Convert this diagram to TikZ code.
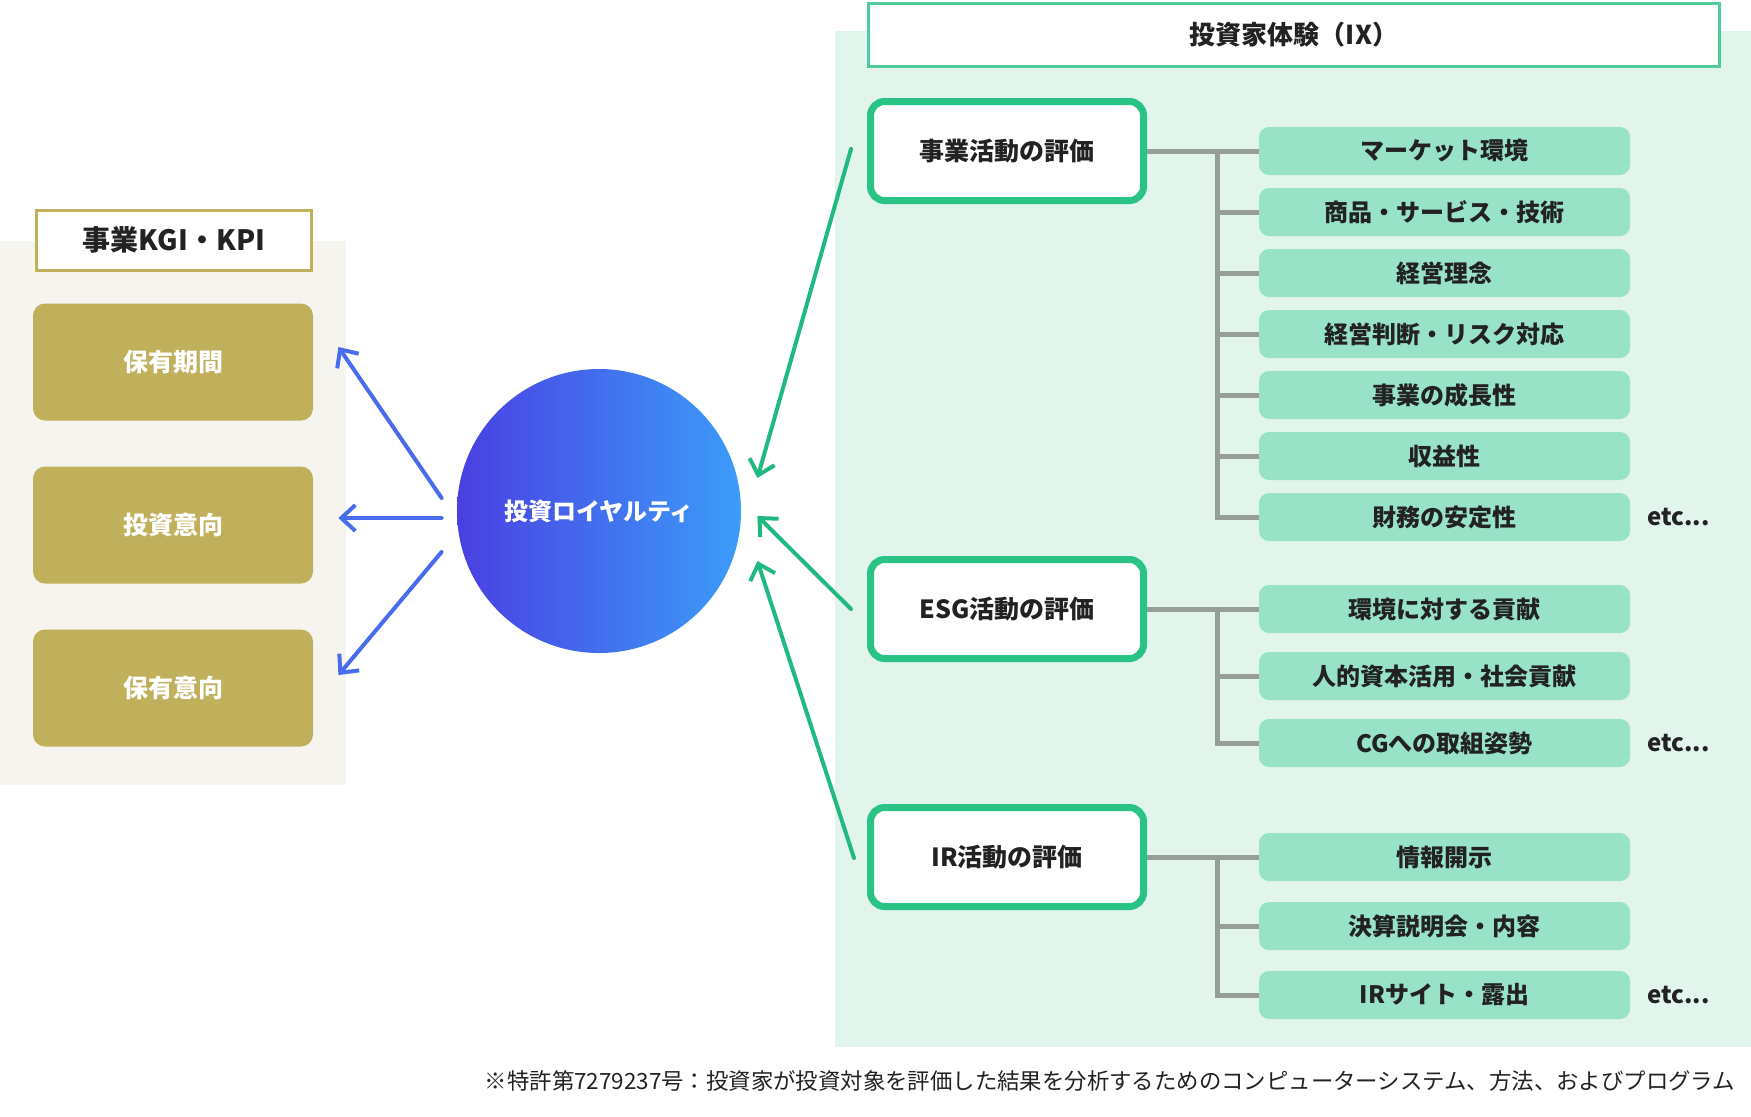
\documentclass[tikz,border=0pt]{standalone}
\usepackage{fontspec}
\setmainfont{Noto Sans CJK JP}
\usetikzlibrary{arrows.meta, calc, positioning}
\definecolor{kgibeige}{RGB}{246,244,239}
\definecolor{kgigold}{RGB}{192,176,92}
\definecolor{ixmint}{RGB}{226,245,237}
\definecolor{ixgreen}{RGB}{78,205,155}
\definecolor{ixdeep}{RGB}{40,195,133}
\definecolor{itemmint}{RGB}{152,227,200}
\definecolor{branchgray}{RGB}{150,158,154}
\definecolor{arrowgreen}{RGB}{32,185,130}
\definecolor{arrowblue}{RGB}{72,108,236}
\definecolor{loyalpurple}{RGB}{74,63,226}
\definecolor{loyalblue}{RGB}{59,157,249}
\definecolor{inkdark}{RGB}{34,34,34}

\begin{document}
\begin{tikzpicture}[x=0.5pt, y=-0.5pt, >={Straight Barb[length=7pt, width=13pt]},
    kgititle/.style={draw=kgigold, line width=1.5pt, fill=white, minimum width=137.5pt, minimum height=30pt, text=inkdark, font=\bfseries\fontsize{14}{16}\selectfont},
    kgibox/.style={fill=kgigold, rounded corners=6pt, minimum width=140pt, minimum height=58.5pt, text=white, font=\bfseries\fontsize{12.5}{15}\selectfont},
    ixtitle/.style={draw=ixgreen, line width=1.5pt, fill=white, minimum width=425.5pt, minimum height=31.5pt, text=inkdark, font=\bfseries\fontsize{13}{16}\selectfont},
    catbox/.style={draw=ixdeep, line width=3.5pt, rounded corners=7pt, fill=white, minimum width=136.5pt, minimum height=49.5pt, text=inkdark, font=\bfseries\fontsize{12.5}{15}\selectfont},
    itembox/.style={fill=itemmint, rounded corners=5pt, minimum width=185.5pt, minimum height=24pt, text=inkdark, font=\bfseries\fontsize{12}{14}\selectfont},
    etcnote/.style={text=inkdark, font=\bfseries\fontsize{12}{14}\selectfont},
    branch/.style={draw=branchgray, line width=2.5pt},
    outarrow/.style={->, draw=arrowblue, line width=2pt, line cap=round},
    inarrow/.style={->, draw=arrowgreen, line width=2pt, line cap=round}]
    \useasboundingbox (0,0) rectangle (1751,1116);

    % Panels
    \fill[kgibeige] (0,241) rectangle (346,785);
    \fill[ixmint] (835,31) rectangle (1751,1047);

    % KGI / KPI side
    \node[kgititle] (kgi) at (174,240) {事業KGI・KPI};
    \node[kgibox] (hold) at (173,362) {保有期間};
    \node[kgibox] (intent) at (173,525) {投資意向};
    \node[kgibox] (keep) at (173,688) {保有意向};

    % Investor loyalty
    \node[circle, minimum size=142pt, inner sep=0pt, left color=loyalpurple, right color=loyalblue, text=white, font=\bfseries\fontsize{12}{14}\selectfont] (loyal) at (599,511) {投資ロイヤルティ};

    % Investor experience side
    \node[ixtitle] (ix) at (1294,35) {投資家体験（IX）};
    \node[catbox] (biz) at (1007,151) {事業活動の評価};
    \node[catbox] (esg) at (1007,609) {ESG活動の評価};
    \node[catbox] (ir) at (1007,857) {IR活動の評価};

    \node[itembox] (b1) at (1444.5,151) {マーケット環境};
    \node[itembox] (b2) at (1444.5,212) {商品・サービス・技術};
    \node[itembox] (b3) at (1444.5,273) {経営理念};
    \node[itembox] (b4) at (1444.5,334) {経営判断・リスク対応};
    \node[itembox] (b5) at (1444.5,395) {事業の成長性};
    \node[itembox] (b6) at (1444.5,456) {収益性};
    \node[itembox] (b7) at (1444.5,517) {財務の安定性};
    \node[etcnote, right=5pt of b7] (betc) {etc...};

    \node[itembox] (e1) at (1444.5,609) {環境に対する貢献};
    \node[itembox] (e2) at (1444.5,676) {人的資本活用・社会貢献};
    \node[itembox] (e3) at (1444.5,743) {CGへの取組姿勢};
    \node[etcnote, right=5pt of e3] (eetc) {etc...};

    \node[itembox] (r1) at (1444.5,857) {情報開示};
    \node[itembox] (r2) at (1444.5,926) {決算説明会・内容};
    \node[itembox] (r3) at (1444.5,995) {IRサイト・露出};
    \node[etcnote, right=5pt of r3] (retc) {etc...};

    % Branches
    \coordinate (bizfork) at ($(biz.east)+(70,0)$);
    \coordinate (esgfork) at ($(esg.east)+(70,0)$);
    \coordinate (irfork) at ($(ir.east)+(70,0)$);
    \draw[branch] (biz.east) -- (b1.west);
    \draw[branch] (esg.east) -- (e1.west);
    \draw[branch] (ir.east) -- (r1.west);
    \foreach \m in {b2,b3,b4,b5,b6,b7}
        \draw[branch] (bizfork) |- (\m.west);
    \foreach \m in {e2,e3}
        \draw[branch] (esgfork) |- (\m.west);
    \foreach \m in {r2,r3}
        \draw[branch] (irfork) |- (\m.west);

    % Arrows out of the loyalty circle
    \coordinate (o1) at ($(loyal.west)+(-15,-13)$);
    \coordinate (o2) at ($(loyal.west)+(-15,7)$);
    \coordinate (o3) at ($(loyal.west)+(-15,41)$);
    \coordinate (t1) at ($(hold.east)+(25,-15)$);
    \coordinate (t2) at ($(intent.east)+(25,-7)$);
    \coordinate (t3) at ($(keep.east)+(25,-13)$);
    \draw[outarrow] (o1) -- (t1);
    \draw[outarrow] (o2) -- (t2);
    \draw[outarrow] (o3) -- (t3);

    % Arrows into the loyalty circle
    \coordinate (s1) at ($(biz.west)+(-16,-2)$);
    \coordinate (s2) at ($(esg.west)+(-16,0)$);
    \coordinate (s3) at ($(ir.west)+(-13,1)$);
    \coordinate (i1) at ($(loyal.east)+(16,-33)$);
    \coordinate (i2) at ($(loyal.east)+(16,5)$);
    \coordinate (i3) at ($(loyal.east)+(16,50)$);
    \draw[inarrow] (s1) -- (i1);
    \draw[inarrow] (s2) -- (i2);
    \draw[inarrow] (s3) -- (i3);

    % Patent note
    \node[anchor=east, text=inkdark, font=\fontsize{11.2}{13}\selectfont] (patent) at (1742,1081) {※特許第7279237号：投資家が投資対象を評価した結果を分析するためのコンピューターシステム、方法、およびプログラム};
\end{tikzpicture}
\end{document}
